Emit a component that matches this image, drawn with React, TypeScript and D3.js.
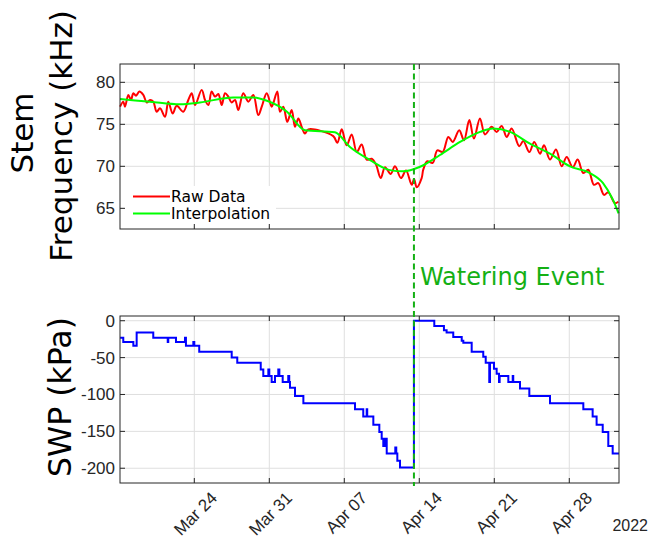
import * as d3 from "d3";
import React, { useRef, useEffect } from "react";

const W = 649;
const H = 539;
const left = 120;
const right = 619;
const top1 = 64;
const bot1 = 229;
const top2 = 316;
const bot2 = 483;

// days since Mar 17 2022 00:00
const rawDays = [
  0.07, 0.37, 0.53, 0.84, 1.09, 1.31, 1.56, 1.87, 2.24, 2.56, 2.87, 3.17, 3.49,
  3.8, 4.27, 4.57, 4.98, 5.36, 5.97, 6.44, 6.76, 7.07, 7.69, 8.0, 8.31, 8.62,
  8.93, 9.24, 9.56, 9.87, 10.17, 10.49, 10.8, 11.11, 11.57, 12.04, 12.51, 12.97,
  13.32, 13.76, 14.22, 14.37, 14.75, 15.0, 15.31, 15.68, 16.09, 16.4, 16.71,
  17.05, 17.33, 17.64, 19.97, 20.35, 20.76, 21.22, 21.69, 22.16, 22.62, 23.09,
  23.56, 23.96, 24.4, 24.8, 25.33, 25.73, 26.29, 26.76, 27.29, 27.51, 27.76,
  28.22, 28.37, 28.75, 29.25, 29.68, 30.18, 30.71, 31.12, 31.73, 32.17, 32.67,
  33.1, 33.66, 34.13, 34.76, 35.22, 35.69, 36.16, 36.62, 37.33, 37.71, 38.27,
  38.73, 39.27, 39.64, 40.2, 40.76, 41.29, 41.76, 42.32, 42.78, 43.31, 43.77,
  44.3, 44.71, 45.24, 45.64, 46.27, 46.57,
];
const rawFreq = [
  77.1, 77.7, 77.1, 78.5, 77.9, 78.7, 78.4, 78.9, 78.5, 77.6, 77.9, 77.7, 76.5,
  76.9, 75.9, 77.7, 76.3, 77.2, 76.5, 77.9, 78.7, 77.3, 79.1, 77.9, 77.3, 78.9,
  78.3, 78.6, 77.3, 78.7, 78.3, 77.6, 77.9, 76.7, 78.7, 77.7, 78.5, 76.1, 77.2,
  78.7, 77.1, 77.5, 78.9, 76.5, 77.1, 75.3, 76.7, 74.7, 75.7, 74.6, 73.9, 74.4,
  73.6, 72.8, 74.4, 72.5, 73.8, 71.7, 72.6, 70.8, 70.9, 70.2, 68.6, 69.9, 69.1,
  70.0, 68.6, 69.5, 67.8, 68.5, 67.5, 68.6, 69.6, 70.6, 70.4, 71.9, 71.7, 73.5,
  72.9, 74.3, 73.1, 75.5, 73.3, 75.7, 73.8, 74.7, 74.1, 74.8, 73.5, 74.5, 72.4,
  73.0, 71.7, 72.9, 71.5, 72.5, 70.8, 72.0, 70.0, 71.1, 69.9, 70.8, 69.2, 69.6,
  67.8, 68.0, 66.6, 66.9, 65.6, 65.8,
];

const fitDays = [
  0.07, 2.87, 5.67, 7.53, 10.61, 12.48, 13.78, 15.65, 17.33, 20.13, 21.53, 23.4,
  25.27, 26.48, 28.07, 29.93, 31.8, 33.67, 34.88, 36.47, 38.33, 40.2, 42.07,
  43.93, 45.15, 46.08, 46.6,
];
const fitFreq = [
  78.0, 77.7, 77.4, 77.6, 78.2, 78.2, 77.8, 76.5, 74.3, 74.05, 72.3, 70.75,
  69.55, 69.4, 69.95, 71.35, 72.9, 74.1, 74.5, 74.1, 72.7, 71.5, 70.0, 69.2,
  68.0, 66.0, 64.4,
];

const swpDays = [
  0.07, 0.37, 1.31, 1.62, 3.17, 4.52, 4.57, 5.29, 6.13, 6.22, 6.91, 7.0, 7.46,
  10.49, 11.01, 13.2, 13.44, 13.91, 14.0, 14.22, 14.53, 14.84, 14.94, 15.25,
  15.77, 15.86, 15.93, 16.4, 17.18, 22.0, 22.77, 23.09, 23.14, 23.71, 24.27,
  24.49, 24.64, 24.8, 24.96, 25.76, 25.85, 25.95, 26.2, 27.5, 29.4, 30.3, 30.55,
  31.17, 31.96, 32.11, 32.89, 33.97, 34.2, 34.53, 34.6, 34.97, 35.22, 35.44,
  35.5, 36.31, 36.72, 36.77, 37.4, 38.27, 40.2, 43.31, 44.18, 44.55, 45.12,
  45.64, 46.05, 46.64,
];
const swpKpa = [
  -23, -29, -34, -16, -23, -29, -23, -29, -23, -34, -29, -34, -42, -50, -57,
  -66, -75, -66, -75, -83, -75, -66, -75, -83, -75, -83, -91, -102, -112, -120,
  -130, -120, -130, -141, -151, -160, -170, -160, -180, -172, -180, -190, -199,
  0, -7, -13, -16, -22, -27, -30, -42, -49, -57, -83, -57, -65, -72, -83, -75,
  -83, -75, -83, -92, -102, -112, -120, -130, -141, -151, -170, -180, -180,
];

const tickDates = ["2022-03-24", "2022-03-31", "2022-04-07", "2022-04-14", "2022-04-21", "2022-04-28"];
const tickLabels = ["Mar 24", "Mar 31", "Apr 07", "Apr 14", "Apr 21", "Apr 28"];
const freqTicks = [65, 70, 75, 80];
const swpTicks = [0, -50, -100, -150, -200];
const wateringDay = 27.5;

const start = new Date(2022, 2, 17);
const toDate = (d: number) => new Date(start.getTime() + d * 864e5);
const parse = d3.timeParse("%Y-%m-%d");

const axisColor = "#262626";
const gridColor = "#dfdfdf";
const tickFont = "'Liberation Sans', Arial, sans-serif";
const labelFont = "'DejaVu Sans', Verdana, sans-serif";

export default function App() {
  const ref = useRef(null);

  useEffect(() => {
    const svg = d3.select(ref.current);
    svg.selectAll("*").remove();

    svg.append("rect").attr("width", W).attr("height", H).attr("fill", "white");

    var x = d3
      .scaleTime()
      .domain([toDate(0.065), toDate(46.64)])
      .range([left, right]);
    var yF = d3.scaleLinear().domain([62.54, 82.18]).range([bot1, top1]);
    var yS = d3.scaleLinear().domain([-220, 6.4]).range([bot2, top2]);
    const ticks = tickDates.map((t) => parse(t) as Date);

    // grid for one panel
    function panel(y: any, yTicks: number[], y0: number, y1: number) {
      const g = svg.append("g");
      g.selectAll(".gx")
        .data(ticks)
        .join("line")
        .attr("x1", (d: any) => x(d))
        .attr("x2", (d: any) => x(d))
        .attr("y1", y0)
        .attr("y2", y1)
        .attr("stroke", gridColor);
      g.selectAll(".gy")
        .data(yTicks)
        .join("line")
        .attr("class", "gy")
        .attr("x1", left)
        .attr("x2", right)
        .attr("y1", (d: any) => y(d))
        .attr("y2", (d: any) => y(d))
        .attr("stroke", gridColor);
      return g;
    }

    // box, inward ticks, y labels
    function frame(y: any, yTicks: number[], y0: number, y1: number) {
      const g = svg.append("g").attr("stroke", axisColor).attr("stroke-width", 1);
      g.append("rect")
        .attr("x", left)
        .attr("y", y0)
        .attr("width", right - left)
        .attr("height", y1 - y0)
        .attr("fill", "none");
      ticks.forEach((t) => {
        g.append("line").attr("x1", x(t)).attr("x2", x(t)).attr("y1", y1).attr("y2", y1 - 5);
        g.append("line").attr("x1", x(t)).attr("x2", x(t)).attr("y1", y0).attr("y2", y0 + 5);
      });
      yTicks.forEach((v) => {
        g.append("line").attr("x1", left).attr("x2", left + 5).attr("y1", y(v)).attr("y2", y(v));
        g.append("line").attr("x1", right).attr("x2", right - 5).attr("y1", y(v)).attr("y2", y(v));
      });
      svg
        .append("g")
        .selectAll("text")
        .data(yTicks)
        .join("text")
        .attr("x", left - 5)
        .attr("y", (d: any) => y(d))
        .attr("dy", "0.35em")
        .attr("text-anchor", "end")
        .attr("font-family", tickFont)
        .attr("font-size", 17)
        .attr("fill", axisColor)
        .text((d: any) => d);
    }

    panel(yF, freqTicks, top1, bot1);
    panel(yS, swpTicks, top2, bot2);

    const raw = rawDays.map((d, i) => [d, rawFreq[i]]);
    const fit = fitDays.map((d, i) => [d, fitFreq[i]]);
    const swp = swpDays.map((d, i) => [d, swpKpa[i]]);

    const lineF = (curve: any) =>
      d3
        .line()
        .x((d: any) => x(toDate(d[0])))
        .y((d: any) => yF(d[1]))
        .curve(curve);

    svg
      .append("path")
      .datum(raw)
      .attr("d", lineF(d3.curveCatmullRom.alpha(0.5)) as any)
      .attr("fill", "none")
      .attr("stroke", "#ff0000")
      .attr("stroke-width", 2);
    svg
      .append("path")
      .datum(fit)
      .attr("d", lineF(d3.curveMonotoneX) as any)
      .attr("fill", "none")
      .attr("stroke", "#00ff00")
      .attr("stroke-width", 2);

    svg
      .append("path")
      .datum(swp)
      .attr(
        "d",
        d3
          .line()
          .x((d: any) => x(toDate(d[0])))
          .y((d: any) => yS(d[1]))
          .curve(d3.curveStepAfter) as any
      )
      .attr("fill", "none")
      .attr("stroke", "#0000ff")
      .attr("stroke-width", 2);

    // Legend
    const leg = svg.append("g");
    leg.append("rect").attr("x", 124).attr("y", 186).attr("width", 152).attr("height", 40).attr("fill", "white");
    [
      { label: "Raw Data", color: "#ff0000" },
      { label: "Interpolation", color: "#00ff00" },
    ].forEach((d, i) => {
      const yy = 196.5 + i * 17;
      leg.append("line").attr("x1", 133).attr("x2", 170).attr("y1", yy).attr("y2", yy).attr("stroke", d.color).attr("stroke-width", 2);
      leg
        .append("text")
        .attr("x", 171)
        .attr("y", yy + 5.5)
        .attr("font-family", labelFont)
        .attr("font-size", 15.5)
        .attr("fill", "#000")
        .text(d.label);
    });

    frame(yF, freqTicks, top1, bot1);
    frame(yS, swpTicks, top2, bot2);

    // x tick labels
    svg
      .append("g")
      .selectAll("text")
      .data(ticks)
      .join("text")
      .attr("transform", (d: any) => `translate(${x(d) + 24},${499}) rotate(-45)`)
      .attr("text-anchor", "end")
      .attr("font-family", tickFont)
      .attr("font-size", 17)
      .attr("fill", axisColor)
      .text((d: any, i: number) => tickLabels[i]);
    svg
      .append("text")
      .attr("x", 648)
      .attr("y", 531)
      .attr("text-anchor", "end")
      .attr("font-family", tickFont)
      .attr("font-size", 16)
      .attr("fill", axisColor)
      .text("2022");

    // Watering event
    const wx = x(toDate(wateringDay));
    svg
      .append("line")
      .attr("x1", wx)
      .attr("x2", wx)
      .attr("y1", top1)
      .attr("y2", bot2 + 3)
      .attr("stroke", "#14b014")
      .attr("stroke-width", 2)
      .attr("stroke-dasharray", "6,3.5");
    svg
      .append("text")
      .attr("x", wx + 6)
      .attr("y", 285)
      .attr("font-family", labelFont)
      .attr("font-size", 24)
      .attr("fill", "#14b014")
      .text("Watering Event");

    // Axis labels
    svg
      .append("text")
      .attr("transform", "translate(33,133) rotate(-90)")
      .attr("text-anchor", "middle")
      .attr("font-family", labelFont)
      .attr("font-size", 31)
      .text("Stem");
    svg
      .append("text")
      .attr("transform", "translate(72,136) rotate(-90)")
      .attr("text-anchor", "middle")
      .attr("font-family", labelFont)
      .attr("font-size", 31)
      .text("Frequency (kHz)");
    svg
      .append("text")
      .attr("transform", "translate(71,397) rotate(-90)")
      .attr("text-anchor", "middle")
      .attr("font-family", labelFont)
      .attr("font-size", 31.5)
      .text("SWP (kPa)");
  }, []);

  return (
    <svg
      ref={ref}
      width={W}
      height={H}
      style={{ position: "absolute", left: 0, top: 0 }}
    ></svg>
  );
}
